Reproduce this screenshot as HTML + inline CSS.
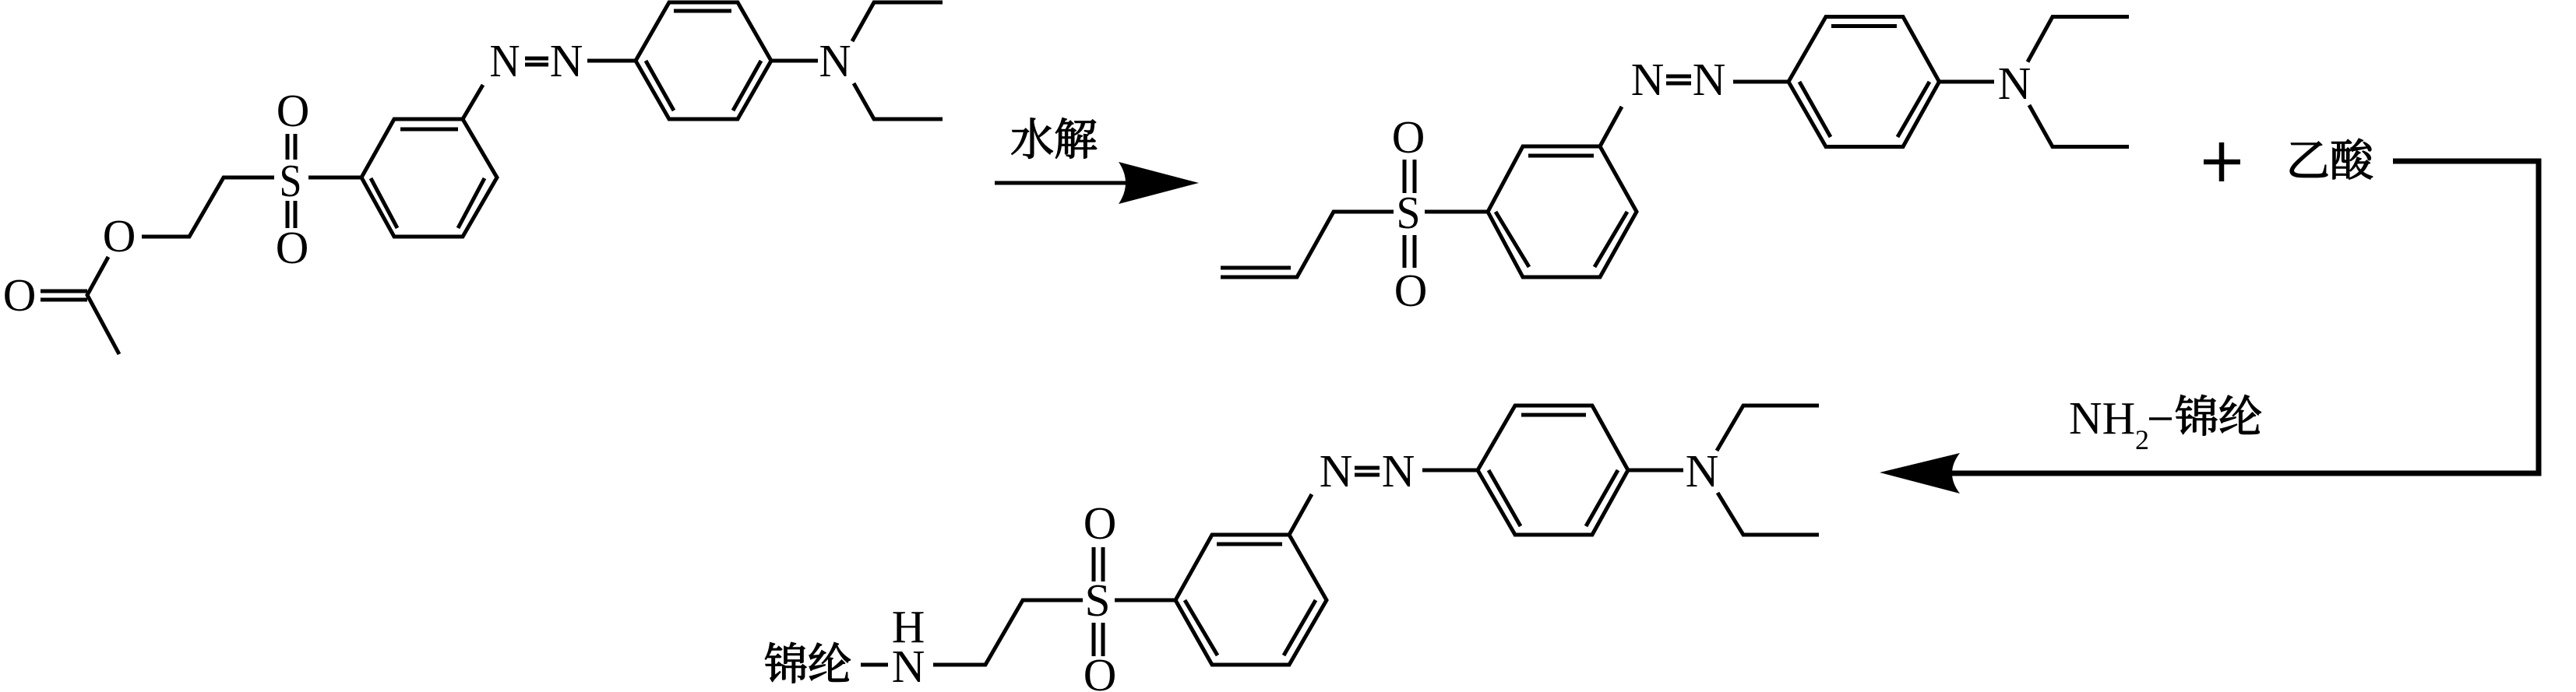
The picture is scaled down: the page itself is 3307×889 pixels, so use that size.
<!DOCTYPE html>
<html><head><meta charset="utf-8"><style>
html,body{margin:0;padding:0;background:#fff;width:3307px;height:889px;overflow:hidden}
svg{display:block}
.l{fill:none;stroke:#000;stroke-width:5;stroke-linejoin:miter;stroke-linecap:butt}
.t{font-family:"Liberation Serif",serif;font-size:59px;fill:#000;text-anchor:middle}
.c{font-family:"Liberation Serif","Noto Serif CJK SC",serif;font-size:56px;fill:#000;stroke:#000;stroke-width:1.4}
</style></head><body>
<svg width="3307" height="889" viewBox="0 0 3307 889" xmlns="http://www.w3.org/2000/svg">
<rect width="3307" height="889" fill="#fff"/>
<!-- Molecule 1 -->
<path class="l" d="M464 228L506 153H594L638 228L594 304H506ZM514 166H588M476 229L510 293M622 229L588 293M594 153L620 109
M674 75H704M674 83H704M754 78H816M816 78L859 3H947L990 78L947 153H859ZM865 14H939M829 78L865 142M977 78L941 142M990 78H1050
M1094 53L1122 3H1210M1096 107L1122 153H1210
M369 172V205M379 172V205M369 258V293M379 258V293M396 228H464M352 228H287L243 304H182
M139 330L112 379L153 455M52 374H112M52 385H112"/>
<text class="t" x="648" y="98" textLength="39" lengthAdjust="spacingAndGlyphs">N</text><text class="t" x="727" y="98">N</text><text class="t" x="1072" y="98" textLength="41" lengthAdjust="spacingAndGlyphs">N</text>
<text class="t" x="376" y="162">O</text><text class="t" x="373" y="252" textLength="29" lengthAdjust="spacingAndGlyphs">S</text><text class="t" x="375" y="338">O</text>
<text class="t" x="153" y="323">O</text><text class="t" x="25" y="399">O</text>
<!-- Arrow 1 -->
<path class="l" d="M1277 235H1450"/>
<path d="M1539 235L1436 208Q1454 235 1436 262Z" fill="#000"/>
<text class="c" x="1297" y="199">水解</text>
<!-- Molecule 2 -->
<path class="l" d="M1910 272L1955 188H2054L2101 272L2054 356H1955ZM1962 200H2046M1920 272L1963 343M2089 272L2047 343M2054 188L2082 137
M2139 98H2171M2139 107H2171M2225 105H2296M2296 105L2344 21.500H2443L2489.500 105L2443 188.500H2344ZM2351 33.500H2435M2310 105L2350 176M2477 105L2436 176M2489 105H2560
M2603 79.500L2635 21.500H2733M2605 135L2635 188.500H2733
M1803 205V248M1816 205V248M1803 302V344M1816 302V344M1829 272H1910M1789 272H1712L1665 356H1567M1567 344H1657"/>
<text class="t" x="2115" y="122">N</text><text class="t" x="2194" y="122">N</text><text class="t" x="2586" y="127">N</text>
<text class="t" x="1808" y="196">O</text><text class="t" x="1808" y="293" textLength="31" lengthAdjust="spacingAndGlyphs">S</text><text class="t" x="1811" y="393">O</text>
<!-- Plus + acetic acid -->
<path d="M2829 208H2876M2852 183V233" fill="none" stroke="#000" stroke-width="6.500"/>
<text class="c" x="2935" y="226">乙酸</text>
<!-- Long connector -->
<path d="M3072 207H3259V608H2500" fill="none" stroke="#000" stroke-width="7"/>
<path d="M2413 607L2516 582Q2496 608 2516 634Z" fill="#000"/>
<text class="t" x="2656" y="557" style="text-anchor:start">NH</text>
<text class="t" x="2741" y="577" style="text-anchor:start;font-size:36px">2</text>
<path d="M2759 538H2788" stroke="#000" stroke-width="3.500" fill="none"/>
<text class="c" x="2792" y="555">锦纶</text>
<!-- Molecule 3 -->
<path class="l" d="M1509 771L1556 687H1655L1703 771L1655 854H1556ZM1562 699H1646M1521 771L1563 842M1689 771L1648 842M1655 687L1684 635
M1739 601H1771M1739 610H1771M1826 604H1897M1897 604L1945 521H2044L2090 604L2044 687H1945ZM1953 533H2036M1911 604L1952 676M2077 604L2036 676M2090 604H2161
M2204 579L2238 521H2335M2205 633L2238 687H2335
M1404 703V747M1416 703V747M1404 800V843M1416 800V843M1431 771H1509M1390 771H1313L1265 854H1198M1105 854H1140"/>
<text class="t" x="1715" y="625">N</text><text class="t" x="1795" y="625">N</text><text class="t" x="2185" y="625">N</text>
<text class="t" x="1412" y="692">O</text><text class="t" x="1409" y="791">S</text><text class="t" x="1412" y="887">O</text>
<text class="t" x="1166" y="876">N</text><text class="t" x="1166" y="825">H</text>
<text class="c" x="981" y="873">锦纶</text>
</svg>
</body></html>
